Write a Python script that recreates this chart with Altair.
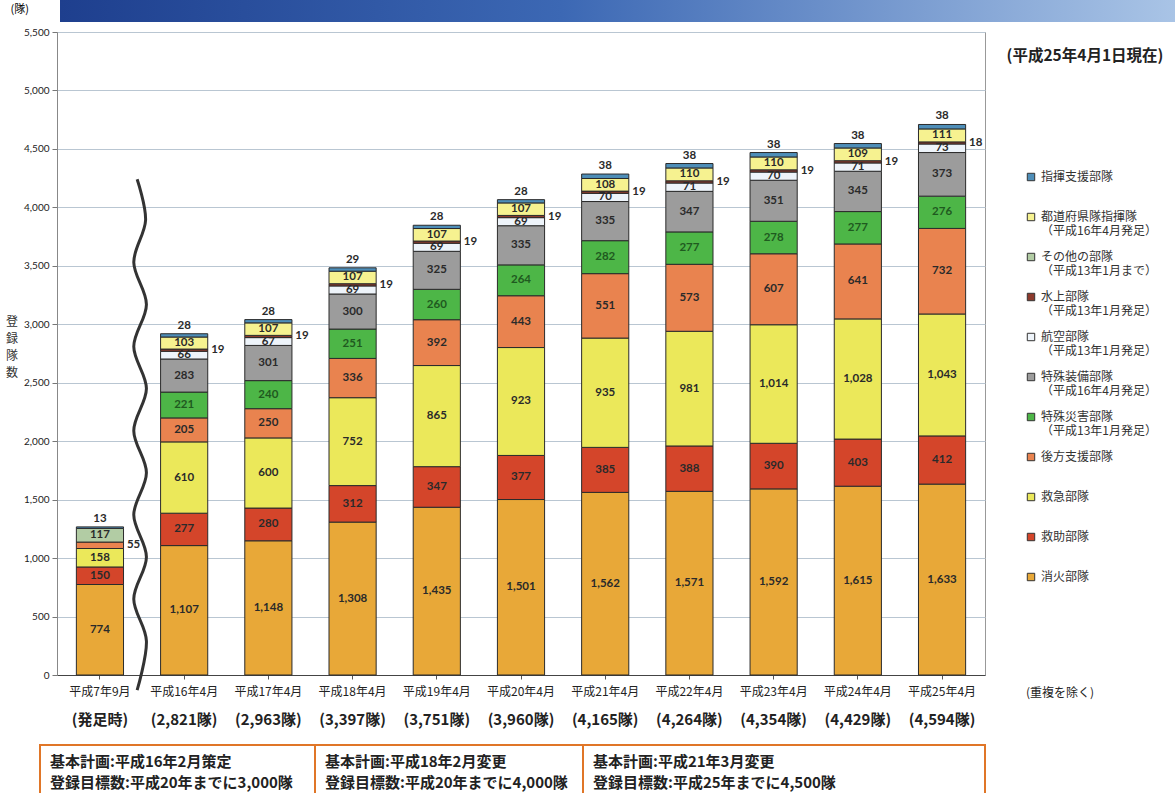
import altair as alt
import pandas as pd

JP = "Noto Sans CJK JP"
NUM = "Lato"

periods = ["平成7年9月", "平成16年4月", "平成17年4月", "平成18年4月", "平成19年4月", "平成20年4月",
           "平成21年4月", "平成22年4月", "平成23年4月", "平成24年4月", "平成25年4月"]
totals_text = ["(発足時)", "(2,821隊)", "(2,963隊)", "(3,397隊)", "(3,751隊)", "(3,960隊)",
               "(4,165隊)", "(4,264隊)", "(4,354隊)", "(4,429隊)", "(4,594隊)"]

shoka = [774, 1107, 1148, 1308, 1435, 1501, 1562, 1571, 1592, 1615, 1633]
kyujo = [150, 277, 280, 312, 347, 377, 385, 388, 390, 403, 412]
kyukyu = [158, 610, 600, 752, 865, 923, 935, 981, 1014, 1028, 1043]
koho = [55, 205, 250, 336, 392, 443, 551, 573, 607, 641, 732]
tokusai = [None, 221, 240, 251, 260, 264, 282, 277, 278, 277, 276]
tokuso = [None, 283, 301, 300, 325, 335, 335, 347, 351, 345, 373]
koku = [None, 66, 67, 69, 69, 69, 70, 71, 70, 71, 73]
suijo = [None, 19, 19, 19, 19, 19, 19, 19, 19, 19, 18]
todofuken = [None, 103, 107, 107, 107, 107, 108, 110, 110, 109, 111]
sonota = [117, None, None, None, None, None, None, None, None, None, None]
shiki = [13, 28, 28, 29, 28, 28, 38, 38, 38, 38, 38]

# stack order bottom -> top
stack_names = ["消火部隊", "救助部隊", "救急部隊", "後方支援部隊", "特殊災害部隊", "特殊装備部隊",
               "航空部隊", "水上部隊", "都道府県隊指揮隊", "その他の部隊", "指揮支援部隊"]
stack_values = [shoka, kyujo, kyukyu, koho, tokusai, tokuso, koku, suijo, todofuken, sonota, shiki]
legend_text = {
    "指揮支援部隊": "指揮支援部隊| ",
    "都道府県隊指揮隊": "都道府県隊指揮隊|（平成16年4月発足）",
    "その他の部隊": "その他の部隊|（平成13年1月まで）",
    "水上部隊": "水上部隊|（平成13年1月発足）",
    "航空部隊": "航空部隊|（平成13年1月発足）",
    "特殊装備部隊": "特殊装備部隊|（平成16年4月発足）",
    "特殊災害部隊": "特殊災害部隊|（平成13年1月発足）",
    "後方支援部隊": "後方支援部隊| ",
    "救急部隊": "救急部隊| ",
    "救助部隊": "救助部隊| ",
    "消火部隊": "消火部隊| ",
}
legend_order = ["指揮支援部隊", "都道府県隊指揮隊", "その他の部隊", "水上部隊", "航空部隊", "特殊装備部隊",
                "特殊災害部隊", "後方支援部隊", "救急部隊", "救助部隊", "消火部隊"]
colors = {
    "指揮支援部隊": "#4E8EB8",
    "都道府県隊指揮隊": "#F6F290",
    "その他の部隊": "#B2CCA4",
    "水上部隊": "#8C3A2C",
    "航空部隊": "#EEF4FA",
    "特殊装備部隊": "#9C9C9C",
    "特殊災害部隊": "#4DB647",
    "後方支援部隊": "#E9834F",
    "救急部隊": "#EBE85A",
    "救助部隊": "#D4452A",
    "消火部隊": "#E8A838",
}

# wave (break mark) control points
wave_x = [0.95, 1.05, 0.91, 1.06, 0.91, 1.06, 0.91, 1.06, 0.91, 1.06, 0.91, 1.06, 0.95]
wave_y = [4240, 3890, 3530, 3170, 2810, 2450, 2090, 1730, 1370, 1010, 650, 290, -130]

rows, labels = [], []
for pi, p in enumerate(periods):
    cum = 0
    for si, (name, vals) in enumerate(zip(stack_names, stack_values)):
        v = vals[pi]
        if v is None:
            continue
        rows.append({"period": p, "cat": legend_text[name], "value": v, "order": si})
        mid = cum + v / 2
        top = cum + v
        cum += v
        txt = f"{v:,}"
        if name == "指揮支援部隊":
            pos, y = "top", top
        elif name == "水上部隊" or (name == "後方支援部隊" and pi == 0):
            pos, y = "right", mid
        else:
            pos, y = "in", mid
        tc = "#1F5A1F" if name == "特殊災害部隊" else "#2A2A2A"
        labels.append({"period": p, "y": y, "t": txt, "pos": pos, "tc": tc})

df = pd.DataFrame(rows)
lab = pd.DataFrame(labels)
tot = pd.DataFrame({"period": periods, "t": totals_text})
wave = pd.DataFrame({"wx": wave_x, "wy": wave_y, "i": list(range(len(wave_x)))})

W, H = 928, 643
xenc = alt.X("period:N", sort=periods,
             scale=alt.Scale(paddingInner=0.44, paddingOuter=0.23),
             axis=alt.Axis(title=None, labelAngle=0, labelFont=JP, labelFontSize=12,
                           labelColor="#222", tickSize=4, tickColor="#555",
                           domainColor="#444", labelPadding=7, grid=False))

bars = alt.Chart(df).mark_bar(stroke="#2b2b2b", strokeWidth=1).encode(
    x=xenc,
    y=alt.Y("value:Q", stack="zero",
            scale=alt.Scale(domain=[0, 5500], nice=False),
            axis=alt.Axis(values=list(range(0, 5501, 500)), format=",d", title="(隊)",
                          titleAngle=0, titleX=-47, titleY=-18, titleAlign="left",
                          titleFont=JP, titleFontSize=11, titleFontWeight="normal",
                          labelFont=NUM, labelFontSize=10, labelColor="#222",
                          tickSize=5, tickColor="#777", labelPadding=3,
                          domainColor="#888", gridColor="#B9C6D2")),
    color=alt.Color("cat:N",
                    scale=alt.Scale(domain=[legend_text[n] for n in legend_order],
                                    range=[colors[n] for n in legend_order]),
                    legend=alt.Legend(orient="none", legendX=968, legendY=139, title=None,
                                      symbolType="square", symbolSize=55,
                                      symbolStrokeColor="#333", symbolStrokeWidth=1,
                                      labelFont=JP, labelFontSize=12, labelColor="#333",
                                      labelExpr="split(datum.label, '|')",
                                      labelLimit=220, rowPadding=14)),
    order=alt.Order("order:Q"),
)

def txt_layer(pos, **kw):
    return alt.Chart(lab[lab["pos"] == pos]).mark_text(
        font=NUM, fontSize=11.5, fontWeight="bold", **kw).encode(
        x=alt.X("period:N", sort=periods),
        y=alt.Y("y:Q"),
        text="t:N",
        color=alt.Color("tc:N", scale=None),
    )

t_in = txt_layer("in", baseline="middle")
t_right = txt_layer("right", align="left", dx=27, baseline="middle")
t_top = txt_layer("top", baseline="bottom", dy=-3)

t_tot = alt.Chart(tot).mark_text(font=JP, fontSize=15, fontWeight="bold", color="#222").encode(
    x=alt.X("period:N", sort=periods), y=alt.value(688), text="t:N")

inner = alt.layer(bars, t_in, t_right, t_top, t_tot)

wave_line = alt.Chart(wave).mark_line(color="#333", strokeWidth=3, interpolate="cardinal").encode(
    x=alt.X("wx:Q", scale=alt.Scale(domain=[0, 11]), axis=None),
    y=alt.Y("wy:Q"),
    order="i:Q",
)

def note(text, x, y, size=13, weight="bold", align="left", color="#222", font=JP, **kw):
    return alt.Chart(alt.Data(values=[{"t": text}])).mark_text(
        font=font, fontSize=size, fontWeight=weight, align=align, baseline="middle",
        color=color, **kw).encode(x=alt.value(x), y=alt.value(y), text="t:N")

def box(x0, x1):
    return alt.Chart(alt.Data(values=[{}])).mark_rect(
        fill="white", stroke="#E07628", strokeWidth=2).encode(
        x=alt.value(x0), x2=alt.value(x1), y=alt.value(713), y2=alt.value(790))

banner = alt.Chart(alt.Data(values=[{}])).mark_rect(
    fill=alt.LinearGradient(gradient="linear", x1=0, x2=1, y1=0, y2=0,
                            stops=[alt.GradientStop(color="#1E3F8E", offset=0),
                                   alt.GradientStop(color="#3C68B4", offset=0.45),
                                   alt.GradientStop(color="#A9C4E6", offset=1)])).encode(
    x=alt.value(3), x2=alt.value(1118), y=alt.value(-40), y2=alt.value(-10))

annotations = [
    banner,
    note("(平成25年4月1日現在)", 1028, 24, size=15.5, align="center"),
    note("(重複を除く)", 1003, 661, size=12, weight="normal", align="center"),
    alt.Chart(alt.Data(values=[{}])).mark_text(font=JP, fontSize=12, color="#333",
                                               lineHeight=17, baseline="middle").encode(
        x=alt.value(-45), y=alt.value(290), text=alt.value(["登", "録", "隊", "数"])),
    box(-17, 258), box(258, 526), box(526, 928),
    note("基本計画:平成16年2月策定", -7, 730, size=15),
    note("登録目標数:平成20年までに3,000隊", -7, 751, size=15),
    note("基本計画:平成18年2月変更", 268, 730, size=15),
    note("登録目標数:平成20年までに4,000隊", 268, 751, size=15),
    note("基本計画:平成21年3月変更", 536, 730, size=15),
    note("登録目標数:平成25年までに4,500隊", 536, 751, size=15),
]

chart = alt.layer(inner, wave_line, *annotations).resolve_scale(x="independent").properties(
    width=W, height=H,
    autosize=alt.AutoSizeParams(type="none"),
    padding={"left": 57, "top": 32, "right": 190, "bottom": 118},
    background="white",
).configure_view(stroke="#999", strokeWidth=1)

chart.save("out.html", embed_options={"renderer": "svg", "actions": False})
